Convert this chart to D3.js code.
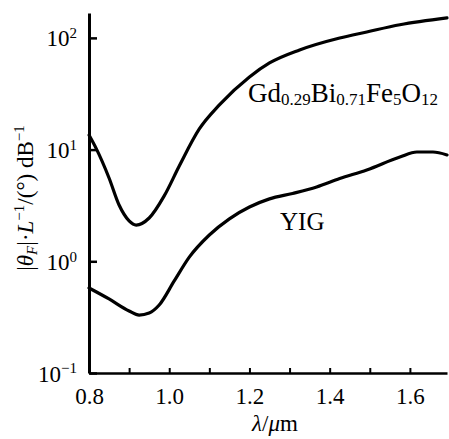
<!DOCTYPE html>
<html>
<head>
<meta charset="utf-8">
<script src="https://cdn.jsdelivr.net/npm/d3@7"></script>
<style>
  body { margin: 0; background: #fff; }
  svg { display: block; }
  .serif { font-family: "Liberation Serif", "DejaVu Serif", serif; fill: #000; }
</style>
</head>
<body>
<script>
// wavelength in um, |theta_F|/L in deg/dB
var bigWave = [0.800, 0.8175, 0.85, 0.875, 0.90, 0.9175, 0.95, 0.9875, 1.025, 1.075, 1.125, 1.20, 1.25, 1.325, 1.425, 1.4925, 1.575, 1.6925];
var bigVals = [13.5, 10.3, 5.57, 3.19, 2.30, 2.11, 2.44, 3.85, 7.13, 15.3, 25.1, 44.7, 59.6, 78, 99.8, 113, 131, 151];

var yigWave = [0.800, 0.85, 0.90, 0.925, 0.95, 0.975, 1.0125, 1.05, 1.10, 1.15, 1.20, 1.25, 1.3075, 1.3675, 1.425, 1.4925, 1.575, 1.6175, 1.6575, 1.6925];
var yigVals = [0.577, 0.46, 0.359, 0.330, 0.344, 0.406, 0.667, 1.09, 1.72, 2.40, 3.06, 3.62, 4.05, 4.63, 5.50, 6.57, 8.59, 9.51, 9.51, 8.95];

var xTicks = [0.8, 0.9, 1.0, 1.1, 1.2, 1.3, 1.4, 1.5, 1.6];
var xLabels = ["0.8", "", "1.0", "", "1.2", "", "1.4", "", "1.6"];
var yTicks = [0.1, 1, 10, 100];
var yExp = ["\u22121", "0", "1", "2"];

var W = 449, H = 439;
var svg = d3.select("body").append("svg").attr("width", W).attr("height", H);

var x = d3.scaleLinear().domain([0.8, 1.6925]).range([89, 447]);
var y = d3.scaleLog().domain([0.1, 167]).range([373, 13]);

// x axis, ticks pointing inward
var gx = svg.append("g").attr("transform", "translate(0," + y(0.1) + ")")
    .call(d3.axisBottom(x).tickValues(xTicks).tickSizeInner(-5).tickSizeOuter(0).tickPadding(14)
        .tickFormat(function (d, i) { return xLabels[i]; }));
gx.select(".domain").attr("stroke-width", 2.6);
gx.selectAll(".tick line").attr("stroke-width", 2);
gx.selectAll(".tick text").attr("class", "serif").attr("font-size", 23).attr("font-family", null)
    .attr("dy", "0.72em");

// y axis
var gy = svg.append("g").attr("transform", "translate(" + x(0.8) + ",0)")
    .call(d3.axisLeft(y).tickValues(yTicks).tickSizeInner(-8).tickSizeOuter(0).tickFormat(""));
gy.select(".domain").attr("stroke-width", 3);
gy.selectAll(".tick line").attr("stroke-width", 2.5);
gy.selectAll(".tick").each(function (d, i) {
  var t = d3.select(this).append("text").attr("class", "serif")
      .attr("x", -12).attr("dy", "0.35em").attr("text-anchor", "end")
      .attr("font-size", 23);
  t.append("tspan").text("10");
  t.append("tspan").attr("font-size", 15).attr("dy", "-0.55em").text(yExp[i]);
});

// curves
var line = d3.line().x(function (d) { return x(d[0]); }).y(function (d) { return y(d[1]); })
    .curve(d3.curveMonotoneX);
var bigData = d3.zip(bigWave, bigVals);
var yigData = d3.zip(yigWave, yigVals);
[bigData, yigData].forEach(function (dat) {
  svg.append("path").datum(dat).attr("d", line)
      .attr("fill", "none").attr("stroke", "#000").attr("stroke-width", 3.2)
      .attr("stroke-linejoin", "round").attr("stroke-linecap", "round");
});

// curve labels
var lab = svg.append("text").attr("class", "serif").attr("x", 248).attr("y", 102).attr("font-size", 27);
[["Gd", 0], ["0.29", 1], ["Bi", 0], ["0.71", 1], ["Fe", 0], ["5", 1], ["O", 0], ["12", 1]].forEach(function (p, i) {
  var s = lab.append("tspan").text(p[0]);
  if (p[1]) s.attr("font-size", 17).attr("dy", 3);
  else if (i > 0) s.attr("dy", -3);
});
svg.append("text").attr("class", "serif").attr("x", 280).attr("y", 230).attr("font-size", 25).text("YIG");

// axis titles
var xt = svg.append("text").attr("class", "serif").attr("x", 275).attr("y", 431)
    .attr("text-anchor", "middle").attr("font-size", 23);
xt.append("tspan").attr("font-style", "italic").text("\u03bb");
xt.append("tspan").text("/");
xt.append("tspan").attr("font-style", "italic").text("\u03bc");
xt.append("tspan").text("m");

var yt = svg.append("text").attr("class", "serif")
    .attr("transform", "translate(33,198) rotate(-90)")
    .attr("text-anchor", "middle").attr("font-size", 23);
yt.append("tspan").text("|");
yt.append("tspan").attr("font-style", "italic").text("\u03b8");
yt.append("tspan").attr("font-style", "italic").attr("font-size", 15).attr("dy", 4).text("F");
yt.append("tspan").attr("dy", -4).text("|\u00b7");
yt.append("tspan").attr("font-style", "italic").text("L");
yt.append("tspan").attr("font-size", 15).attr("dy", -9).text("\u22121");
yt.append("tspan").attr("dy", 9).text("/(\u00b0) dB");
yt.append("tspan").attr("font-size", 15).attr("dy", -9).text("\u22121");
</script>
</body>
</html>
